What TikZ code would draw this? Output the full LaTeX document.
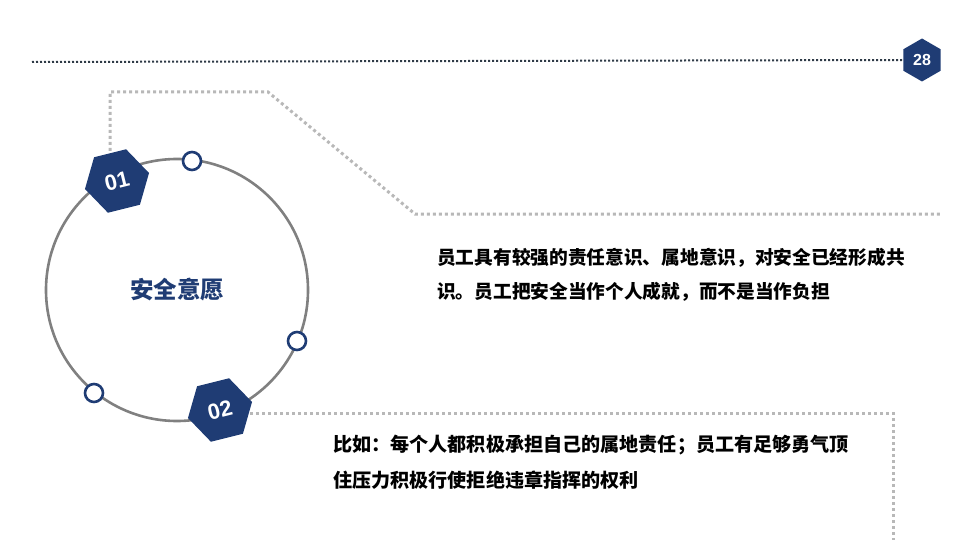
\documentclass[tikz,border=0pt]{standalone}
\usepackage{fontspec}
\usepackage{tikz}
\usetikzlibrary{shapes.geometric,positioning}
\newfontfamily\cjk{Noto Sans CJK SC}
\newfontfamily\numfont{Liberation Sans}
\definecolor{navy}{HTML}{1F3C74}
\definecolor{ringgray}{HTML}{808080}
\definecolor{dotgray}{HTML}{B8B8B8}
\definecolor{dotdark}{HTML}{2E3A46}

\begin{document}
\begin{tikzpicture}[x=1pt,y=-1pt,
  every node/.style={inner sep=0pt},
  hexbadge/.style={regular polygon,regular polygon sides=6,minimum size=66pt,
    fill=navy,text=white,font=\numfont\bfseries\fontsize{22}{22}\selectfont,rotate=14},
  ringdot/.style={circle,minimum size=18pt,draw=navy,line width=2.6pt,fill=white},
  guide/.style={draw=dotgray,line width=3pt,dash pattern=on 3pt off 3pt},
  bodytext/.style={anchor=west,align=left,text=black,font=\cjk\bfseries\fontsize{18.7}{34}\selectfont}]
\useasboundingbox (0,0) rectangle (960,540);
% header
\node[regular polygon,regular polygon sides=6,shape border rotate=30,minimum size=43pt,
  fill=navy,text=white,font=\numfont\bfseries\fontsize{16}{16}\selectfont] (page) at (922,60) {28};
\coordinate (hl) at (32,62);
\draw[dotdark,line width=2pt,dash pattern=on 2pt off 2pt] (hl) -- (page.west);
% guide lines
\coordinate (g1) at (110,181);
\coordinate (g2) at (110,92);
\coordinate (g3) at (268,92);
\coordinate (g4) at (415,214);
\coordinate (g5) at (940,214);
\coordinate (g6) at (220,413);
\coordinate (g7) at (893,413);
\coordinate (g8) at (893,540);
\draw[guide] (g1) -- (g2) -- (g3) -- (g4) -- (g5);
\draw[guide] (g6) -- (g7) -- (g8);
% ring
\coordinate (ring) at (177,290);
\draw[ringgray,line width=2.6pt] (ring) circle[radius=131pt];
\node[hexbadge] (hexA) at (117,181) {01};
\node[hexbadge] (hexB) at (220,410) {02};
% dots on the ring
\node[ringdot] (d1) at (192,161) {};
\node[ringdot] (d2) at (297,341) {};
\node[ringdot] (d3) at (94,393) {};
% texts
\node[text=navy,font=\cjk\bfseries\fontsize{23.5}{23.5}\selectfont] (title) at (ring) {安全意愿};
\node[bodytext] (t1) at (437,275) {员工具有较强的责任意识、属地意识，对安全已经形成共\\识。员工把安全当作个人成就，而不是当作负担};
\node[bodytext,font=\cjk\bfseries\fontsize{19.1}{36}\selectfont] (t2) at (333,462) {比如：每个人都积极承担自己的属地责任；员工有足够勇气顶\\住压力积极行使拒绝违章指挥的权利};
\end{tikzpicture}
\end{document}
